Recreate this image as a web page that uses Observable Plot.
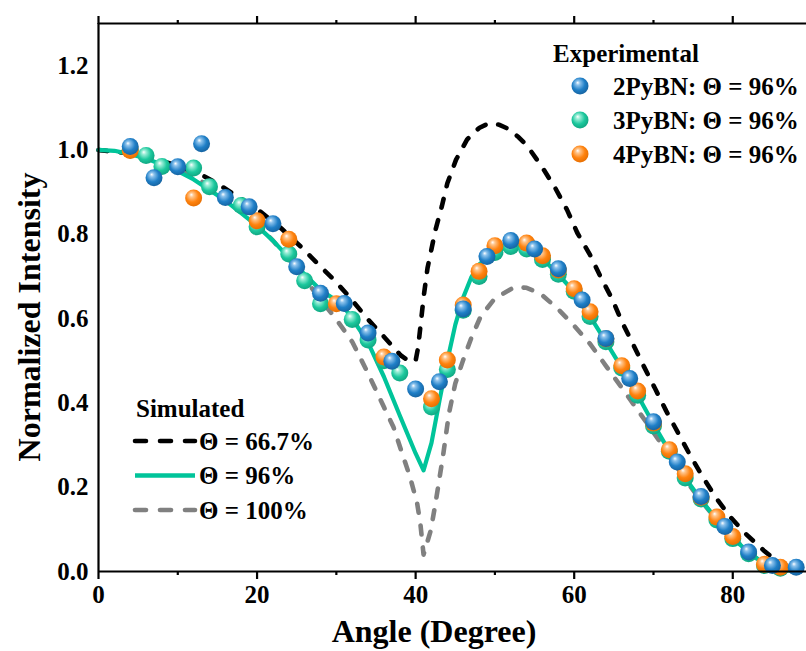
<!DOCTYPE html>
<html>
<head>
<meta charset="utf-8">
<script src="https://cdn.jsdelivr.net/npm/d3@7"></script>
<script src="https://cdn.jsdelivr.net/npm/@observablehq/plot@0.6"></script>
<style>
  html, body { margin: 0; padding: 0; background: #fff; }
  #chart { width: 806px; height: 651px; }
</style>
</head>
<body>
<div id="chart"></div>
<script>
// ---- Experimental data (angle in degrees, normalized intensity) ----
const blueX = [4,7,10,13,16,19,22,25,28,31,34,37,40,43,46,49,52,55,58,61,64,67,70,73,76,79,82,85,88];
const blueY = [1.008,0.934,0.96,1.015,0.887,0.865,0.825,0.723,0.66,0.636,0.566,0.499,0.433,0.45,0.623,0.747,0.785,0.765,0.718,0.644,0.553,0.458,0.355,0.26,0.178,0.107,0.046,0.014,0.01];

const greenX = [4,6,8,12,14,18,20,24,26,28,32,34,36,38,42,44,46,48,50,52,54,56,58,60,62,64,66,68,70,72,74,76,78,80,82,84,86];
const greenY = [1.0,0.987,0.961,0.957,0.913,0.868,0.818,0.753,0.69,0.635,0.598,0.549,0.5,0.471,0.39,0.479,0.62,0.70,0.757,0.771,0.765,0.74,0.705,0.665,0.605,0.545,0.483,0.418,0.345,0.285,0.222,0.172,0.122,0.078,0.042,0.014,0.008];

const orangeX = [4,12,20,24,30,36,42,44,46,48,50,54,56,58,60,62,64,66,68,70,72,74,76,78,80,84,86];
const orangeY = [0.999,0.886,0.832,0.788,0.635,0.509,0.41,0.502,0.632,0.712,0.773,0.779,0.749,0.715,0.671,0.616,0.552,0.488,0.428,0.352,0.289,0.232,0.176,0.129,0.083,0.017,0.01];

// ---- Simulated curves ----
const sim667X = [0,5,10,13,15,17.5,20,23,25.5,27.6,29.7,31.8,33.9,36,38.1,39.3,40.0,40.3,40.6,41.0,41.5,42.0,42.5,43.3,44.0,45.1,46.5,48.0,49.2,50.5,51.7,53.0,54.1,55.9,57.6,59.1,60.4,62.0,63.3,64.8,66.0,67.4,68.8,70.2,71.6,73.1,74.5,76.1,77.8,79.7,81.6,83.9,85.5,87.0,88.0];
const sim667Y = [1.0,0.99,0.963,0.941,0.92,0.89,0.86,0.815,0.771,0.731,0.692,0.648,0.6,0.557,0.513,0.497,0.5,0.53,0.58,0.65,0.72,0.765,0.81,0.866,0.921,0.977,1.025,1.052,1.063,1.06,1.05,1.03,1.009,0.961,0.91,0.858,0.803,0.751,0.7,0.646,0.593,0.54,0.486,0.434,0.381,0.329,0.28,0.228,0.177,0.129,0.09,0.05,0.025,0.008,0.0];

const sim96X = [0,2,4,6,8,10,12,14,16,18,20,22,24,26,28,30,31,32,34,36,38,40,41,42,43,44,45,46,47,48,50,52,54,56,58,60,62,64,66,68,70,72,74,76,78,80,82,84,86,88];
const sim96Y = [1.0,0.998,0.99,0.98,0.965,0.95,0.93,0.905,0.88,0.85,0.82,0.785,0.745,0.705,0.668,0.643,0.626,0.6,0.543,0.462,0.37,0.28,0.24,0.305,0.405,0.5,0.585,0.65,0.697,0.728,0.76,0.772,0.765,0.742,0.705,0.663,0.605,0.545,0.483,0.418,0.35,0.285,0.222,0.17,0.122,0.08,0.045,0.018,0.005,0.0];

const sim100X = [0,5,10,15,20,22,25,28,30,32,34,36,37.2,38.3,39.3,40.2,40.6,41.0,41.9,42.5,43.5,44.2,45.0,46.0,47.0,48.2,50.0,52.5,54.0,55.7,58.0,60.0,62.0,64.0,66.0,68.0,70.0,72.0,74.0,76.0,78.0,80.0,82.0,84.0,86.0];
const sim100Y = [1.0,0.99,0.955,0.905,0.825,0.785,0.72,0.645,0.598,0.545,0.47,0.39,0.343,0.28,0.224,0.161,0.113,0.04,0.097,0.161,0.28,0.375,0.446,0.502,0.553,0.605,0.648,0.675,0.673,0.66,0.622,0.583,0.54,0.488,0.436,0.383,0.33,0.275,0.218,0.168,0.122,0.08,0.045,0.018,0.005];

const xTicksMajor = [0,20,40,60,80];
const xTicksMinor = [10,30,50,70];
const yTicks = [0,0.2,0.4,0.6,0.8,1.0,1.2];

const expNames = ["2PyBN: Θ = 96%","3PyBN: Θ = 96%","4PyBN: Θ = 96%"];
const simNames = ["Θ = 66.7%","Θ = 96%","Θ = 100%"];

const zip = (xs, ys) => xs.map((x, i) => ({x, y: ys[i]}));
const blue = zip(blueX, blueY), green = zip(greenX, greenY), orange = zip(orangeX, orangeY);
const s667 = zip(sim667X, sim667Y), s96 = zip(sim96X, sim96Y), s100 = zip(sim100X, sim100Y);

const GREEN = "#00c49a", GRAY = "#808080";
const AX = 2.2;
const dotR = 8.5;
const LW = 4.6;

const plot = Plot.plot({
  width: 806,
  height: 651,
  marginLeft: 98,
  marginRight: 0,
  marginTop: 23,
  marginBottom: 80,
  style: {fontFamily: "'Liberation Serif','Times New Roman',serif", fontWeight: "bold", fontSize: "25px", color: "black", background: "white", overflow: "visible"},
  x: {domain: [0, 89.3]},
  y: {domain: [0, 1.3]},
  marks: [
    Plot.line(s100, {x: "x", y: "y", stroke: GRAY, strokeWidth: LW, strokeDasharray: "9,13", strokeLinecap: "round", curve: "linear"}),
    Plot.line(s667, {x: "x", y: "y", stroke: "black", strokeWidth: LW, strokeDasharray: "9,13", strokeLinecap: "round", curve: "linear"}),
    Plot.line(s96, {x: "x", y: "y", stroke: GREEN, strokeWidth: 4.2, curve: "linear"}),
    Plot.dot(green, {x: "x", y: "y", r: dotR, fill: "url(#gGreen)", stroke: "none"}),
    Plot.dot(orange, {x: "x", y: "y", r: dotR, fill: "url(#gOrange)", stroke: "none"}),
    Plot.dot(blue, {x: "x", y: "y", r: dotR, fill: "url(#gBlue)", stroke: "none"}),
    Plot.ruleY([0], {stroke: "black", strokeWidth: AX}),
    Plot.ruleY([1.3], {stroke: "black", strokeWidth: AX}),
    Plot.ruleX([0], {stroke: "black", strokeWidth: AX}),
    Plot.axisX({ticks: xTicksMajor, tickSize: 8, tickPadding: 6, strokeWidth: AX, fontSize: 25, label: null}),
    Plot.axisX({ticks: xTicksMinor, tickSize: 4, strokeWidth: AX, text: null, label: null}),
    Plot.axisX({anchor: "top", ticks: xTicksMajor, tickSize: 8, strokeWidth: AX, text: null, label: null}),
    Plot.axisX({anchor: "top", ticks: xTicksMinor, tickSize: 4, strokeWidth: AX, text: null, label: null}),
    Plot.axisY({ticks: yTicks, tickSize: 0, tickPadding: 10, tickFormat: d3.format(".1f"), fontSize: 25, label: null})
  ]
});

document.getElementById("chart").appendChild(plot);

const svg = d3.select(plot);
const defs = svg.insert("defs", ":first-child");
function grad(id, light, base, dark) {
  const g = defs.append("radialGradient").attr("id", id)
    .attr("cx", "0.45").attr("cy", "0.42").attr("r", "0.62")
    .attr("fx", "0.36").attr("fy", "0.3");
  g.append("stop").attr("offset", "0%").attr("stop-color", "#ffffff");
  g.append("stop").attr("offset", "20%").attr("stop-color", light);
  g.append("stop").attr("offset", "60%").attr("stop-color", base);
  g.append("stop").attr("offset", "100%").attr("stop-color", dark);
}
grad("gBlue", "#8cc2ec", "#1f7fc7", "#15609c");
grad("gGreen", "#9beed7", "#1cc89d", "#0fa27e");
grad("gOrange", "#ffc58c", "#ff830f", "#e36c00");

const font = "'Liberation Serif','Times New Roman',serif";
const g = svg.append("g").attr("font-family", font).attr("font-weight", "bold").attr("fill", "black").attr("text-anchor", "start");

// axis titles
g.append("text").attr("x", 434).attr("y", 642).attr("text-anchor", "middle").attr("font-size", 32).text("Angle (Degree)");
g.append("text").attr("transform", "translate(40,317) rotate(-90)").attr("text-anchor", "middle").attr("font-size", 32).text("Normalized Intensity");

// Experimental legend
g.append("text").attr("x", 626).attr("y", 62).attr("text-anchor", "middle").attr("font-size", 25).text("Experimental");
const expFills = ["url(#gBlue)", "url(#gGreen)", "url(#gOrange)"];
expNames.forEach((name, i) => {
  const cy = 86 + i * 34;
  g.append("circle").attr("cx", 580).attr("cy", cy).attr("r", dotR).attr("fill", expFills[i]);
  g.append("text").attr("x", 613).attr("y", cy + 9).attr("text-anchor", "start").attr("font-size", 25).text(name);
});

// Simulated legend
g.append("text").attr("x", 136).attr("y", 417).attr("text-anchor", "start").attr("font-size", 25).text("Simulated");
const simStyles = [
  {stroke: "black", dash: "11,14"},
  {stroke: GREEN, dash: null},
  {stroke: GRAY, dash: "11,14"}
];
simNames.forEach((name, i) => {
  const ly = 441 + i * 34.5;
  const ln = g.append("line").attr("x1", 135).attr("x2", 195).attr("y1", ly).attr("y2", ly)
    .attr("stroke", simStyles[i].stroke).attr("stroke-width", LW);
  if (simStyles[i].dash) ln.attr("stroke-dasharray", simStyles[i].dash).attr("stroke-linecap", "round");
  g.append("text").attr("x", 199).attr("y", ly + 8.5).attr("text-anchor", "start").attr("font-size", 25).text(name);
});
</script>
</body>
</html>
